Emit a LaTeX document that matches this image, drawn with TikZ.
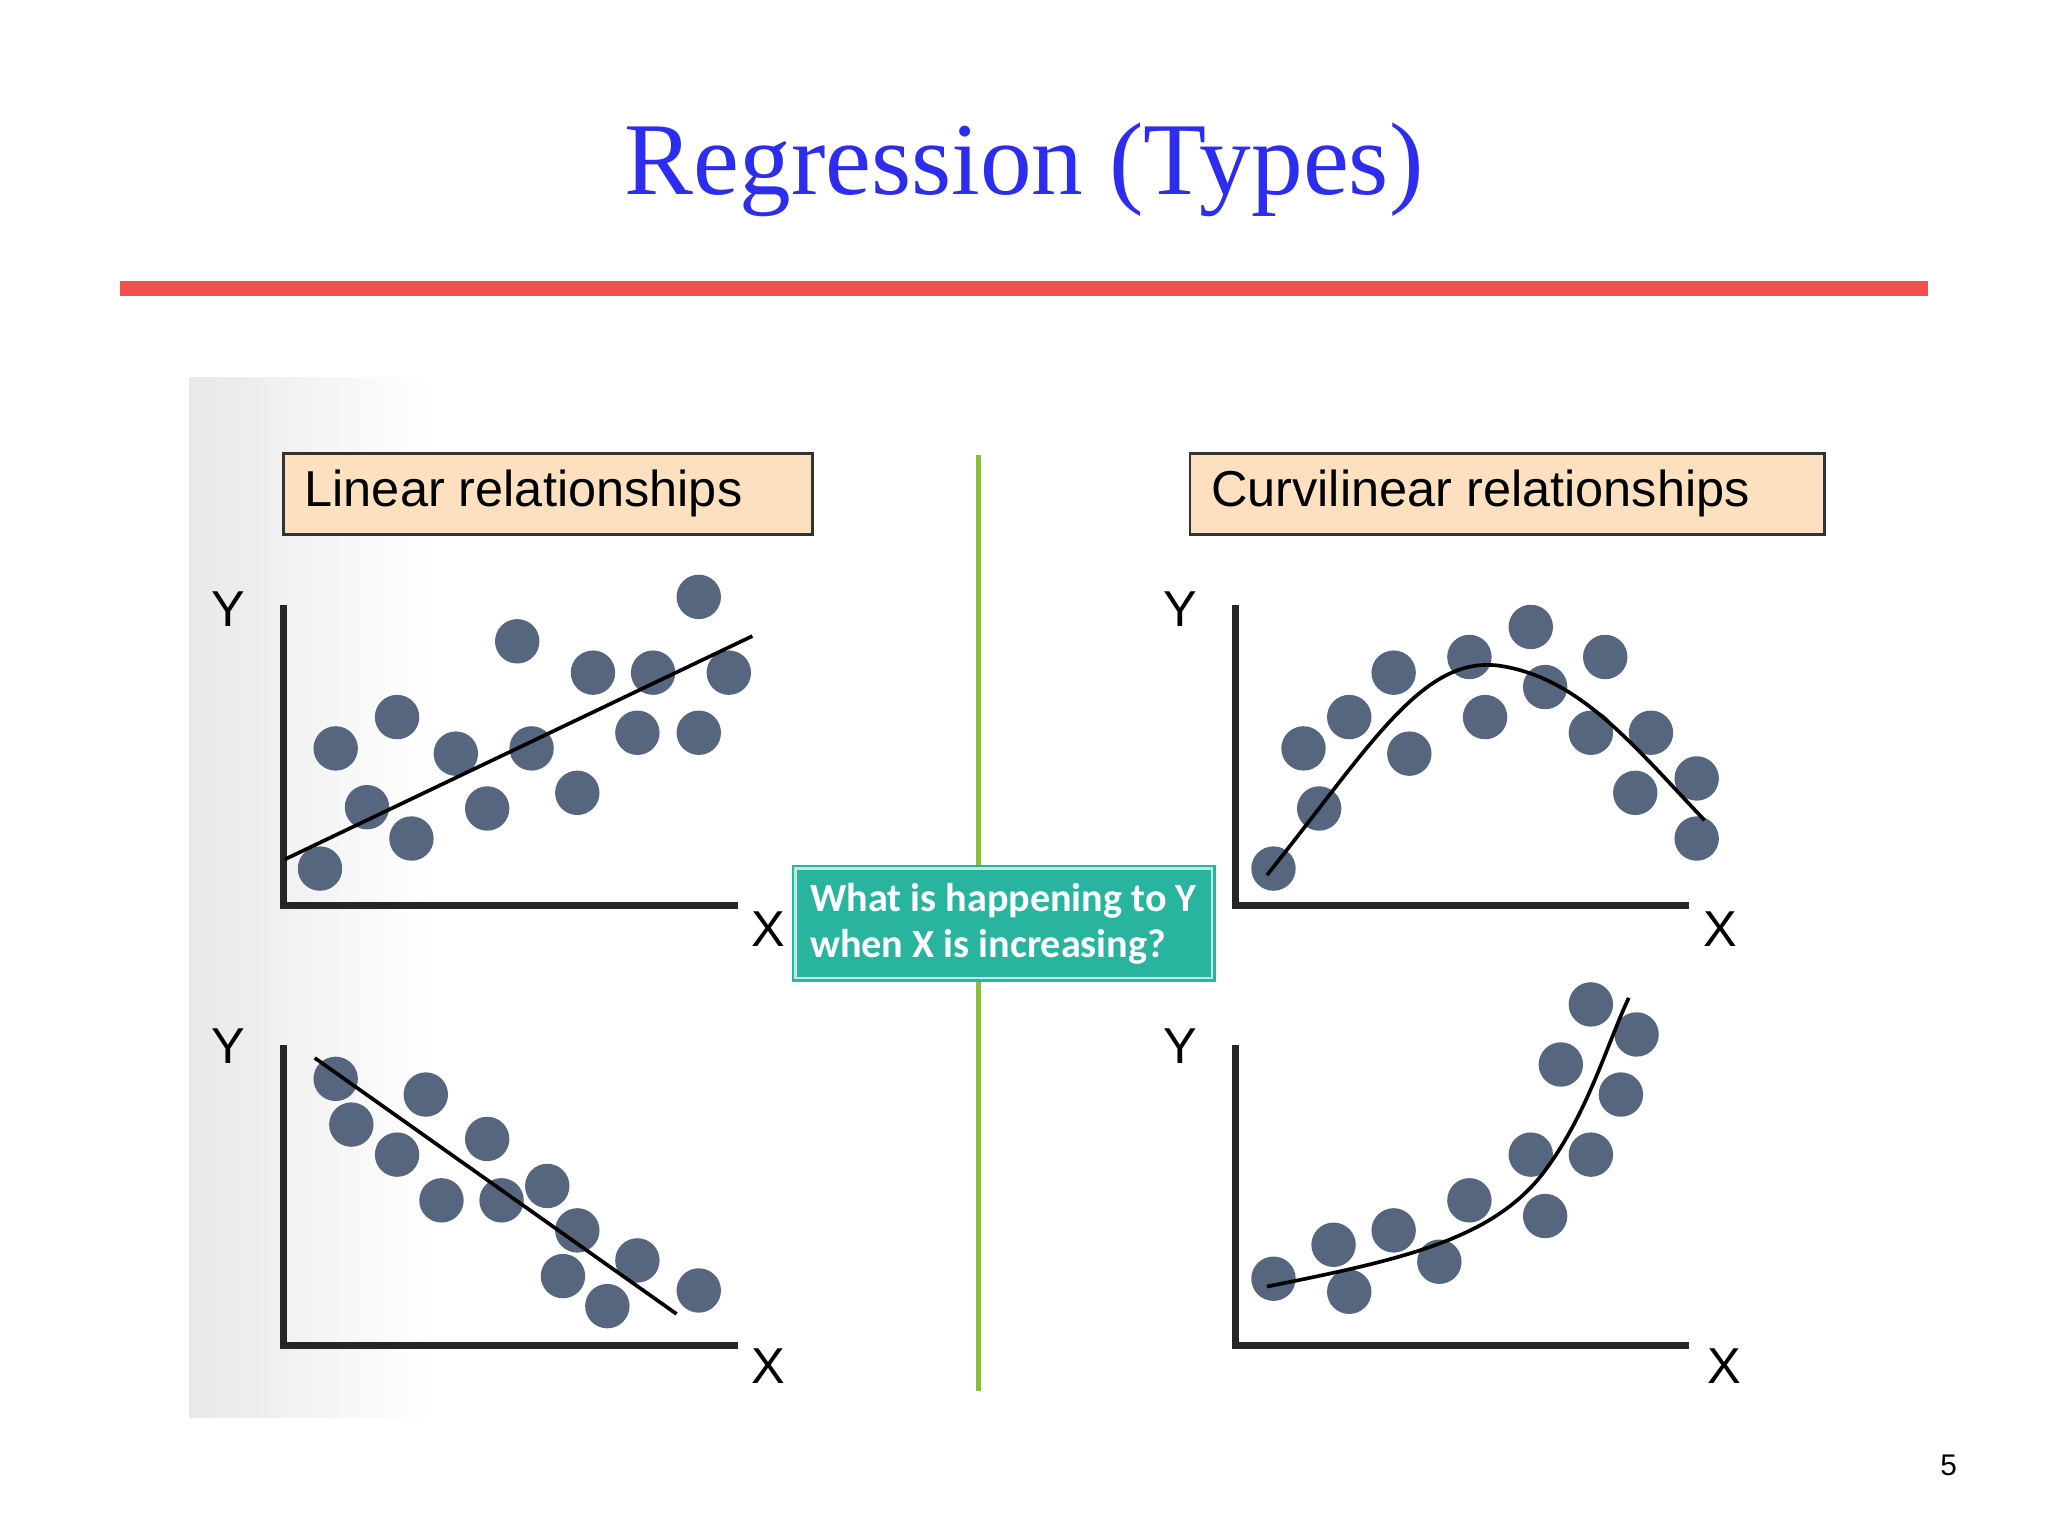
\documentclass[tikz,border=0pt]{standalone}
\usepackage{fontspec}
\setmainfont{Liberation Serif}
\setsansfont{Liberation Sans}
\newfontfamily\calib{Carlito}
\definecolor{titleblue}{RGB}{45,45,240}
\definecolor{redline}{RGB}{245,80,80}
\definecolor{dotc}{RGB}{86,102,126}
\definecolor{boxfill}{RGB}{252,224,192}
\definecolor{tealc}{RGB}{40,180,158}
\definecolor{greenl}{RGB}{140,190,60}
\tikzset{
 dot/.style={circle,fill=dotc,minimum size=34*0.02cm,inner sep=0pt,draw=none},
 axis/.style={line width=3pt,black!85},
 fit/.style={line width=1.6pt,black},
 hdr/.style={draw=black!80,line width=1.2pt,fill=boxfill},
 hdrtxt/.style={font=\sffamily\fontsize{22}{26}\selectfont,anchor=west},
 axl/.style={font=\sffamily\fontsize{22}{26}\selectfont}
}
\begin{document}
\begin{tikzpicture}[x=0.02cm,y=-0.02cm]
\useasboundingbox (0,0) rectangle (1568,1176);
\node[text=titleblue,font=\fontsize{45}{52}\selectfont] (title) at (784,130) {Regression (Types)};
\fill[redline] (92,215) rectangle (1476,227);
\fill[white] (145,289) rectangle (1405,1085);
\shade[left color=black!9,right color=white,draw=none] (145,289) rectangle (330,1085);
\draw[greenl,line width=2pt] (749,348) -- (749,1065);
\draw[hdr] (217,347) rectangle (622,409);
\node[hdrtxt] (h1) at (227,378) {Linear relationships};
\draw[hdr] (911,347) rectangle (1397,409);
\node[hdrtxt] (h2) at (921,378) {Curvilinear relationships};
% axes
\foreach \ox/\oy/\ex in {217/693/565, 217/1030/565, 946/693/1293, 946/1030/1293}{
  \draw[axis] (\ox,\oy-230) -- (\ox,\oy) -- (\ex,\oy);
}
\node[axl] (y1) at (175,466) {Y}; \node[axl] (x1) at (588,711) {X};
\node[axl] (y2) at (175,801) {Y}; \node[axl] (x2) at (588,1046) {X};
\node[axl] (y3) at (904,466) {Y}; \node[axl] (x3) at (1317,711) {X};
\node[axl] (y4) at (904,801) {Y}; \node[axl] (x4) at (1320,1046) {X};
% dots
\foreach \p in {(245,665),(257,573),(281,618),(304,549),(315,642),(349,577),(373,619),(396,491),(407,573),(442,607),(454,515),(488,561),(500,515),(535,457),(535,561),(558,515)} \node[dot] at \p {};
\draw[fit] (218,658) -- (576,487);
\foreach \p in {(257,826),(269,861),(304,884),(326,838),(338,919),(373,872),(384,919),(419,908),(442,942),(431,977),(465,1000),(488,965),(535,988)} \node[dot] at \p {};
\draw[fit] (241,810) -- (518,1006);
\foreach \p in {(975,665),(998,573),(1010,619),(1033,549),(1067,515),(1079,577),(1125,503),(1137,549),(1172,480),(1183,526),(1218,561),(1229,503),(1252,607),(1264,561),(1299,596),(1299,642)} \node[dot] at \p {};
\draw[fit] (970,670) .. controls (1050,570) and (1090,500) .. (1150,510) .. controls (1210,520) and (1250,570) .. (1305,628);
\foreach \p in {(975,979),(1021,953),(1033,989),(1067,942),(1102,966),(1125,919),(1172,884),(1183,931),(1195,815),(1218,884),(1218,769),(1241,838),(1253,792)} \node[dot] at \p {};
\draw[fit] (970,985) .. controls (1070,965) and (1140,950) .. (1180,900) .. controls (1215,855) and (1230,800) .. (1247,764);
% teal box
\fill[tealc] (606,662) rectangle (931,752);
\draw[white!70!tealc,line width=1pt] (609,665) rectangle (928,749);
\node[anchor=west,text=white,align=left,font=\calib\bfseries\fontsize{17.5}{20}\selectfont,inner sep=0pt] (q) at (620,707) {What is happening to Y\\when X is increasing?};
\node[font=\sffamily\fontsize{13}{15}\selectfont] (pg) at (1492,1122) {5};
\end{tikzpicture}
\end{document}
